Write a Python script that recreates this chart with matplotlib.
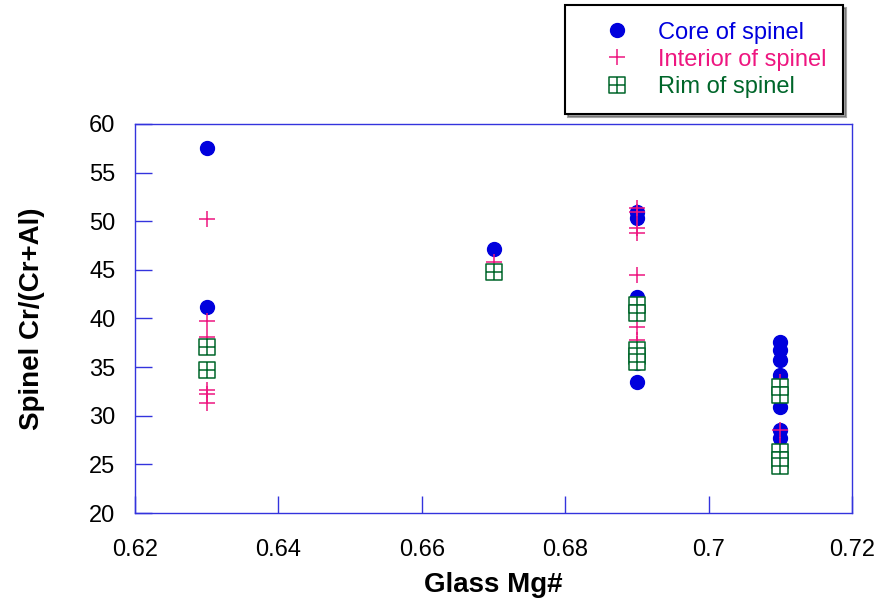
import matplotlib
matplotlib.use('Agg')
import matplotlib.pyplot as plt
from matplotlib.path import Path
import numpy as np

plt.rcParams['font.family'] = ['Liberation Sans', 'DejaVu Sans']

# Core of spinel
core_x = [0.63, 0.63, 0.67, 0.69, 0.69, 0.69, 0.69, 0.69, 0.69,
          0.71, 0.71, 0.71, 0.71, 0.71, 0.71, 0.71, 0.71]
core_y = [57.5, 41.2, 47.1, 50.9, 50.3, 42.2, 41.8, 35.4, 33.5,
          37.6, 36.8, 35.7, 34.2, 33.7, 30.9, 28.5, 27.7]

# Interior of spinel
int_x = [0.63, 0.63, 0.63, 0.63, 0.63, 0.63, 0.67,
         0.69, 0.69, 0.69, 0.69, 0.69, 0.69, 0.69, 0.69,
         0.71, 0.71, 0.71]
int_y = [50.2, 39.7, 38.1, 32.6, 32.2, 31.3, 45.8,
         51.4, 50.9, 49.3, 48.8, 44.5, 39.1, 37.8, 37.4,
         33.5, 28.5, 27.0]

# Rim of spinel
rim_x = [0.63, 0.63, 0.67, 0.69, 0.69, 0.69, 0.69, 0.69,
         0.71, 0.71, 0.71, 0.71, 0.71]
rim_y = [37.1, 34.7, 44.8, 41.4, 40.6, 36.8, 36.1, 35.5,
         33.0, 32.1, 26.3, 25.5, 24.8]

x_ticks = [0.62, 0.64, 0.66, 0.68, 0.7, 0.72]
x_tick_labels = ['0.62', '0.64', '0.66', '0.68', '0.7', '0.72']
y_ticks = [20, 25, 30, 35, 40, 45, 50, 55, 60]

core_col = '#0000dd'
int_col = '#ee1680'
rim_col = '#00662a'

# boxed cross marker
verts = [(-1, -1), (1, -1), (1, 1), (-1, 1), (-1, -1),
         (0, -1), (0, 1), (-1, 0), (1, 0)]
codes = [Path.MOVETO, Path.LINETO, Path.LINETO, Path.LINETO, Path.CLOSEPOLY,
         Path.MOVETO, Path.LINETO, Path.MOVETO, Path.LINETO]
grid_marker = Path(verts, codes)

fig = plt.figure(figsize=(8.8, 5.98), dpi=100)
ax = fig.add_axes([135 / 880, 1 - 513 / 598, 717 / 880, 389 / 598])

h1, = ax.plot(core_x, core_y, 'o', color=core_col, markersize=10, linestyle='none',
              label='Core of spinel', zorder=3)
h2, = ax.plot(int_x, int_y, '+', color=int_col, markersize=11, markeredgewidth=1.1,
              linestyle='none', label='Interior of spinel', zorder=4)
h3, = ax.plot(rim_x, rim_y, linestyle='none', marker=grid_marker, markersize=11,
              markerfacecolor='white', markeredgecolor=rim_col, markeredgewidth=1.1,
              label='Rim of spinel', zorder=5)

ax.set_xlim(0.62, 0.72)
ax.set_ylim(20, 60)
ax.set_xticks(x_ticks)
ax.set_xticklabels(x_tick_labels)
ax.set_yticks(y_ticks)
ax.tick_params(axis='both', direction='in', length=12, width=1, color='#3333dd',
               labelsize=17, top=False, right=False)
ax.tick_params(axis='x', pad=19)
ax.tick_params(axis='y', pad=14)
for s in ax.spines.values():
    s.set_color('#3333dd')
    s.set_linewidth(1)

ax.set_xlabel('Glass Mg#', fontsize=20, fontweight='bold', labelpad=8)
ax.set_ylabel('Spinel Cr/(Cr+Al)', fontsize=20, fontweight='bold', labelpad=32)

leg = fig.legend(handles=[h1, h2, h3], loc='upper left',
                 bbox_to_anchor=(565 / 880, 1 - 5 / 598), fontsize=17,
                 frameon=True, fancybox=False, shadow=True, edgecolor='black',
                 borderpad=0.7, handletextpad=0.25, labelspacing=0.22,
                 handlelength=3.0, borderaxespad=0)
leg.get_frame().set_linewidth(1.5)
for t, c in zip(leg.get_texts(), [core_col, int_col, rim_col]):
    t.set_color(c)

fig.savefig('out.png', dpi=100)
